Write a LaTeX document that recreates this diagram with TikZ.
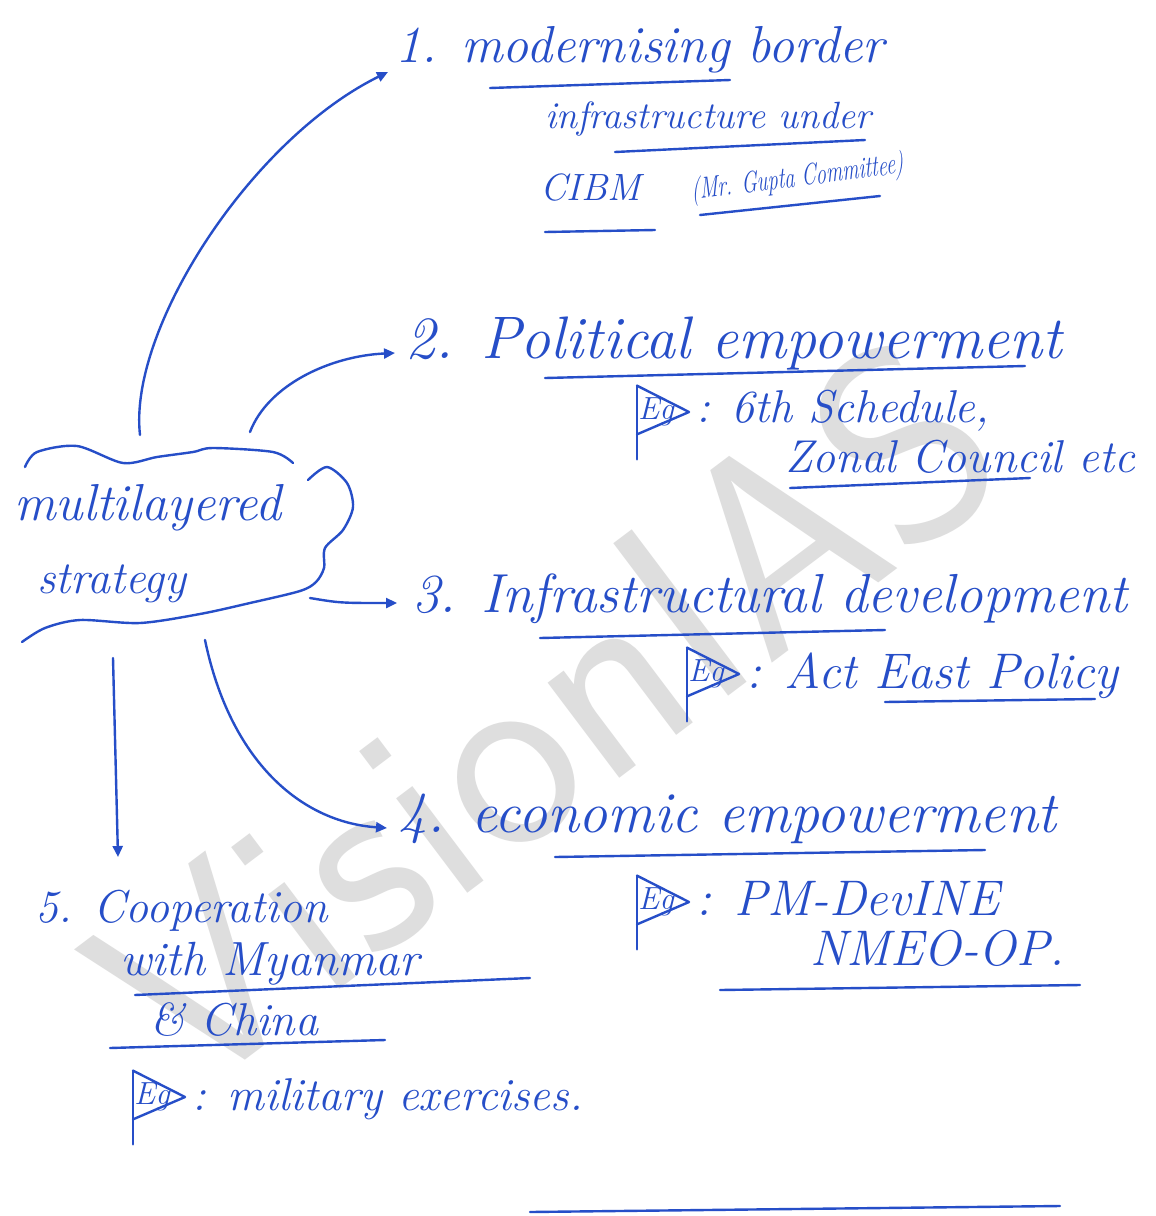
\documentclass[tikz,border=0pt]{standalone}
\usepackage{fontspec}
\usetikzlibrary{arrows.meta}
\definecolor{ink}{RGB}{38,78,200}
\definecolor{wmgray}{RGB}{222,222,222}
\tikzset{
  inkline/.style={draw=ink,line width=2.4pt,line cap=round,line join=round},
  arrowline/.style={inkline,-{Triangle[length=11pt,width=10pt]}},
  hw/.style={text=ink,inner sep=0pt,anchor=base west,font=\itshape\fontsize{#1}{#1}\selectfont},
  hw/.default=48,
  egbox/.style={text=ink,inner sep=1pt,font=\itshape\fontsize{32}{32}\selectfont},
}
\newcommand{\egmark}[1]{%
  \draw[inkline] ([yshift=11pt]#1.north west) -- ([xshift=14pt]#1.east) -- ([yshift=-7pt]#1.south west);
  \draw[inkline] ([yshift=11pt]#1.north west) -- ([yshift=-32pt]#1.south west);}
\begin{document}
\begin{tikzpicture}[x=1pt,y=-1pt]
\useasboundingbox (0,0) rectangle (1156,1216);
\fill[white] (0,0) rectangle (1156,1216);
% watermark
\node[rotate=37,text=wmgray,inner sep=0pt,font=\sffamily\fontsize{275}{275}\selectfont] (wm) at (545,715) {VisionIAS};

% central cloud
\node[hw=52] (c1) at (14,520) {multilayered};
\node[hw=46] (c2) at (37,593) {strategy};
\draw[inkline] plot[smooth] coordinates {(25,467)(37,452)(77,446)(123,463)(157,457)(193,452)(213,448)(273,452)(293,463)};
\draw[inkline] plot[smooth] coordinates {(308,480)(327,467)(347,483)(353,507)(343,530)(325,548)(324,568)(316,582)(300,591)(250,603)(200,614)(140,623)(80,620)(45,628)(22,642)};

% arrow endpoints
\coordinate (s1) at (140,435);
\coordinate (e1) at (388,72);
\coordinate (s2) at (250,432);
\coordinate (e2) at (395,353);
\coordinate (s3) at (310,598);
\coordinate (e3) at (397,603);
\coordinate (s4) at (205,640);
\coordinate (e4) at (387,828);
\coordinate (s5) at (113,658);
\coordinate (e5) at (118,857);

\draw[arrowline] (s1) .. controls (128,330) and (250,140) .. (e1);
\draw[arrowline] (s2) .. controls (268,385) and (330,356) .. (e2);
\draw[arrowline] (s3) .. controls (340,603) .. (e3);
\draw[arrowline] (s4) .. controls (230,760) and (300,822) .. (e4);
\draw[arrowline] (s5) -- (e5);

% 1
\node[hw=52] (t1) at (395,62) {1. modernising border};
\node[hw=38] (t1b) at (545,128) {infrastructure under};
\node[hw=38] (t1c) at (540,200) {CIBM};
\node[hw=30,xscale=0.68,rotate=5] (t1d) at (692,200) {(Mr. Gupta Committee)};
\draw[inkline] (490,88) -- (730,80);
\draw[inkline] (615,152) -- (865,140);
\draw[inkline] (545,232) -- (655,230);
\draw[inkline] (700,215) -- (880,196);

% 2
\node[hw=60] (t2) at (405,358) {2. Political empowerment};
\draw[inkline] (545,378) -- (1025,366);
\node[egbox] (eg2) at (656,412) {Eg};
\egmark{eg2}
\node[hw=46] (t2b) at (696,422) {: 6th Schedule,};
\node[hw=46] (t2c) at (785,472) {Zonal Council etc};
\draw[inkline] (790,488) -- (1030,478);

% 3
\node[hw=55] (t3) at (412,612) {3. Infrastructural development};
\draw[inkline] (540,638) -- (885,630);
\node[egbox] (eg3) at (706,674) {Eg};
\egmark{eg3}
\node[hw=50] (t3b) at (746,688) {: Act East Policy};
\draw[inkline] (885,702) -- (1095,699);

% 4
\node[hw=58] (t4) at (398,832) {4. economic empowerment};
\draw[inkline] (555,857) -- (985,850);
\node[egbox] (eg4) at (656,902) {Eg};
\egmark{eg4}
\node[hw=50] (t4b) at (696,915) {: PM-DevINE};
\node[hw=50] (t4c) at (810,965) {NMEO-OP.};
\draw[inkline] (720,990) -- (1080,985);

% 5
\node[hw=46] (t5) at (35,922) {5. Cooperation};
\node[hw=48] (t5b) at (120,975) {with Myanmar};
\draw[inkline] (135,995) -- (530,978);
\node[hw=46] (t5c) at (150,1035) {\& China};
\draw[inkline] (110,1048) -- (385,1040);
\node[egbox] (eg5) at (152,1097) {Eg};
\egmark{eg5}
\node[hw=46] (t5d) at (192,1110) {: military exercises.};
\draw[inkline] (530,1212) -- (1060,1206);
\end{tikzpicture}
\end{document}
